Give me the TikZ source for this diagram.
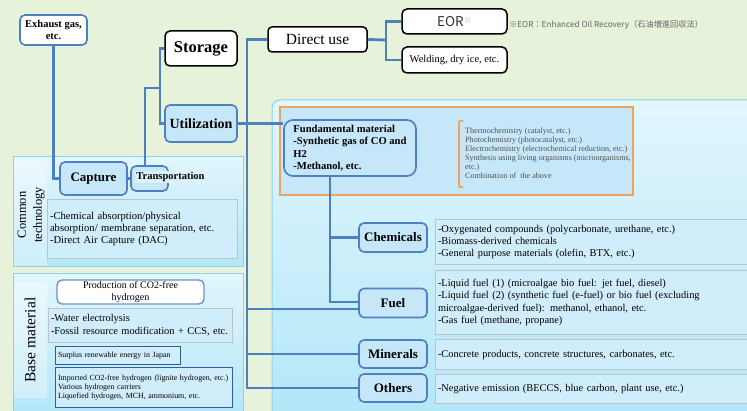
\documentclass[tikz,border=0pt]{standalone}
\usepackage{fontspec}
\setmainfont{Liberation Serif}
\newfontfamily\jpfont{Noto Sans CJK JP}
\definecolor{bggreen}{HTML}{E7F2DB}
\definecolor{lineblue}{HTML}{4E7FBF}
\definecolor{nodeblue}{HTML}{C6E7F9}
\definecolor{paneltop}{HTML}{E2F6FD}
\definecolor{panelbot}{HTML}{B2E6F8}
\definecolor{panelline}{HTML}{8ED2E8}
\definecolor{descfill}{HTML}{D0EDFB}
\definecolor{descline}{HTML}{BAC4C9}
\definecolor{orangeline}{HTML}{F0A35E}
\definecolor{darkblue}{HTML}{2F5C9A}
\definecolor{greytext}{HTML}{505050}
\begin{document}
\begin{tikzpicture}[x=1pt,y=-1pt,
  conn/.style={draw=lineblue, line width=2.8pt},
  bluebox/.style={draw=lineblue, line width=1.6pt, rounded corners=5pt, fill=nodeblue, inner sep=0pt, align=center},
  blackbox/.style={draw=black, line width=1.5pt, rounded corners=5pt, fill=white, inner sep=0pt, align=center},
  descbox/.style={draw=descline, line width=1pt, fill=descfill, anchor=north west, align=left, inner xsep=2.5pt, inner ysep=0pt, font=\fontsize{10.4}{11.8}\selectfont},
  panel/.style={draw=panelline, line width=1pt, top color=paneltop, bottom color=panelbot}]
\fill[bggreen] (0,0) rectangle (747,411);
\useasboundingbox (0,0) rectangle (747,411);
\path[panel, rounded corners=8pt] (272,100) rectangle (760,425);
\path[panel] (13,157) rectangle (243,267);
\path[panel] (13,274) rectangle (243,420);
\fill[white, opacity=.35] (14,160) rectangle (47,266);
\fill[white, opacity=.35] (14,283) rectangle (47,398);
\path[draw=orangeline, line width=1.2pt, fill=nodeblue] (280,107) rectangle (633,195);
\draw[orangeline, line width=1.6pt, rounded corners=1pt] (463,121) -- (459,121) -- (459,187) -- (463,187);

\node[rotate=90, align=center, font=\fontsize{12.5}{16}\selectfont] (comlab) at (31,215) {Common\\technology};
\node[rotate=90, font=\fontsize{15.5}{18}\selectfont] (baselab) at (30,340) {Base material};

\node[bluebox, fill=white, minimum width=67pt, minimum height=30pt, font=\bfseries\fontsize{10.5}{12}\selectfont] (exh) at (53.5,30) {Exhaust gas,\\etc.};
\node[bluebox, minimum width=67pt, minimum height=33pt, font=\bfseries\fontsize{13}{15}\selectfont] (cap) at (93.5,178.5) {Capture};
\node[bluebox, minimum width=37pt, minimum height=25pt] (trbox) at (149.5,178.5) {};
\node[fill=nodeblue!60, inner sep=1.5pt, font=\bfseries\fontsize{10.5}{12}\selectfont] (tr) at (170.5,177) {Transportation};
\node[descbox, text width=185pt, minimum height=59pt, font=\fontsize{10.6}{12}\selectfont] (capd) at (47,199) {-Chemical absorption/physical\\absorption/ membrane separation, etc.\\-Direct Air Capture (DAC)};

\node[bluebox, fill=white, draw=lineblue!85, line width=1.4pt, minimum width=147pt, minimum height=24pt, font=\fontsize{10}{11.5}\selectfont] (prod) at (130.5,292) {Production of CO2-free\\hydrogen};
\node[descbox, text width=179pt, minimum height=34pt, font=\fontsize{10.4}{13}\selectfont] (prodd) at (48,308) {-Water electrolysis\\-Fossil resource modification + CCS, etc.};
\node[descbox, draw=darkblue, text width=120pt, minimum height=18pt, font=\fontsize{7.9}{8.5}\selectfont] (surp) at (55,346) {Surplus renewable energy in Japan};
\node[descbox, draw=darkblue, text width=172pt, minimum height=40pt, font=\fontsize{7.9}{8.6}\selectfont] (imp) at (55,367) {Imported CO2-free hydrogen (lignite hydrogen, etc.)\\Various hydrogen carriers\\Liquefied hydrogen, MCH, ammonium, etc.};

\node[blackbox, minimum width=72pt, minimum height=35pt, font=\bfseries\fontsize{16.5}{18}\selectfont] (sto) at (201,48.5) {Storage};
\node[bluebox, minimum width=72pt, minimum height=37pt, font=\bfseries\fontsize{14}{16}\selectfont] (uti) at (201,123.5) {Utilization};
\node[blackbox, rounded corners=4pt, minimum width=99pt, minimum height=25pt, font=\fontsize{15.5}{17}\selectfont] (dir) at (317.5,39.5) {Direct use};
\node[blackbox, minimum width=105pt, minimum height=25pt, font=\jpfont\fontsize{13.5}{15}\selectfont, text=black!80] (eor) at (454.5,21.5) {EOR\textcolor{gray!50}{\raisebox{3pt}{\fontsize{8}{8}\selectfont ※}}};
\node[blackbox, minimum width=105pt, minimum height=26pt, font=\fontsize{10.5}{12}\selectfont] (wel) at (454.5,60) {Welding, dry ice, etc.};
\node[anchor=west, inner sep=0pt, text=gray!80!black, font=\jpfont\fontsize{8.2}{9}\selectfont] (note) at (509,25) {※EOR：Enhanced Oil Recovery（石油増進回収法）};

\node[bluebox, rounded corners=9pt, minimum width=132pt, minimum height=56pt, align=left, font=\bfseries\fontsize{10.6}{12.5}\selectfont] (fun) at (350,148) {Fundamental material\\-Synthetic gas of CO and\\H2\\-Methanol, etc.};
\node[anchor=north west, align=left, inner sep=0pt, text=greytext, font=\fontsize{8.1}{9}\selectfont] (proc) at (465,128) {Thermochemistry (catalyst, etc.)\\Photochemistry (photocatalyst, etc.)\\Electrochemistry (electrochemical reduction, etc.)\\Synthesis using living organisms (microorganisms,\\etc.)\\Combination of\ \ the above};

\node[bluebox, minimum width=68pt, minimum height=29pt, font=\bfseries\fontsize{13}{15}\selectfont] (chem) at (393,237.5) {Chemicals};
\node[bluebox, minimum width=68pt, minimum height=29pt, font=\bfseries\fontsize{13}{15}\selectfont] (fuel) at (393,303) {Fuel};
\node[bluebox, minimum width=68pt, minimum height=28pt, font=\bfseries\fontsize{13}{15}\selectfont] (min) at (393,354) {Minerals};
\node[bluebox, minimum width=68pt, minimum height=28pt, font=\bfseries\fontsize{13}{15}\selectfont] (oth) at (393,388) {Others};
\node[descbox, text width=312pt, minimum height=45pt] (chemd) at (435,219) {-Oxygenated compounds (polycarbonate, urethane, etc.)\\-Biomass-derived chemicals\\-General purpose materials (olefin, BTX, etc.)};
\node[descbox, text width=312pt, minimum height=64pt, font=\fontsize{10.4}{12.4}\selectfont] (fueld) at (435,270) {-Liquid fuel (1) (microalgae bio fuel: jet fuel, diesel)\\-Liquid fuel (2) (synthetic fuel (e-fuel) or bio fuel (excluding\\microalgae-derived fuel): methanol, ethanol, etc.\\-Gas fuel (methane, propane)};
\node[descbox, text width=312pt, minimum height=30pt] (mind) at (435,339) {-Concrete products, concrete structures, carbonates, etc.};
\node[descbox, text width=312pt, minimum height=29pt] (othd) at (435,374) {-Negative emission (BECCS, blue carbon, plant use, etc.)};

\coordinate (j1) at (160,88);
\coordinate (j2) at (386,40);
\coordinate (t0) at (247,388);
\coordinate (fv) at (330,0);
\draw[conn](exh.south) |- (cap.west);
\draw[conn](cap.east) -- (trbox.west);
\draw[conn]([xshift=-4.5pt]trbox.north) |- (j1);
\draw[conn](sto.west) -| (j1) |- (uti.west);
\draw[conn](dir.west) -| (t0) -- (oth.west);
\draw[conn](min.west) -- (min.west -| t0);
\draw[conn]([yshift=-6pt]fuel.west) -- ([yshift=-6pt]fuel.west -| t0);
\draw[conn](uti.east) -- (uti.east -| fun.west);
\draw[conn](fun.south -| fv) |- (chem.west);
\draw[conn](fun.south -| fv) |- ([yshift=1pt]fuel.west);
\draw[conn](dir.east) -- (j2);
\draw[conn](eor.west) -| (j2) |- (wel.west);
\end{tikzpicture}
\end{document}
